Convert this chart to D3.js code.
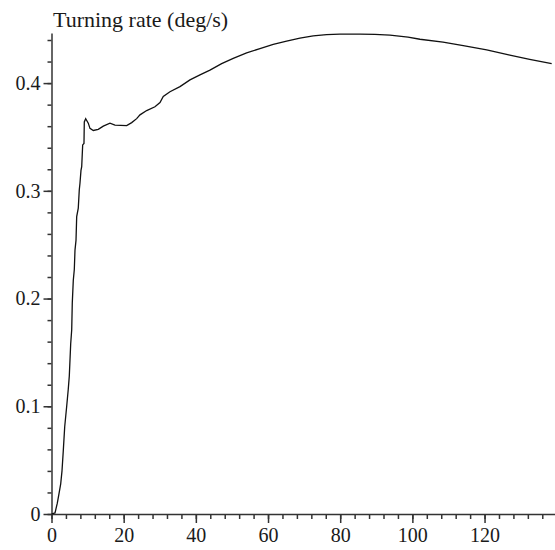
<!DOCTYPE html>
<html>
<head>
<meta charset="utf-8">
<script src="https://cdn.jsdelivr.net/npm/d3@7"></script>
<style>
  body { margin: 0; background: #fff; }
  svg text { font-family: "Liberation Serif", "Times New Roman", serif; fill: #1a1a1a; }
</style>
</head>
<body>
<div id="chart"></div>
<script>
// time (s) and turning rate (deg/s)
var times = [0, 0.97, 1.61, 2.08, 2.55, 2.91, 3.27, 3.66, 4.21, 4.65, 4.93, 5.32, 5.6, 5.76, 6.04, 6.32,
  6.51, 6.79, 6.98, 7.42, 7.7, 7.89, 8.17, 8.37, 8.64, 9.0, 9.09, 9.47, 10.19, 10.66, 11.58, 12.96,
  14.35, 16.2, 17.59, 20.83, 22.22, 23.6, 24.52, 26.37, 28.67, 30.06, 30.97, 32.83, 35.6, 38.37, 41.14, 43.91,
  47.15, 50.36, 54.07, 57.76, 61.44, 65.15, 68.84, 72.52, 76.23, 79.92, 85.5, 89.6, 93.8, 98.8, 102.1, 108.5,
  114.1, 120.6, 127.0, 132.5, 138.6];
var rates = [0, 0.001, 0.01, 0.019, 0.028, 0.04, 0.059, 0.081, 0.1, 0.116, 0.128, 0.158, 0.171, 0.196, 0.217, 0.227,
  0.245, 0.254, 0.276, 0.284, 0.301, 0.307, 0.319, 0.3225, 0.3426, 0.344, 0.364, 0.367, 0.3628, 0.358, 0.356, 0.357,
  0.36, 0.3628, 0.361, 0.3606, 0.3633, 0.367, 0.3705, 0.3745, 0.378, 0.382, 0.3875, 0.392, 0.3967, 0.403, 0.4076, 0.412,
  0.418, 0.423, 0.428, 0.432, 0.436, 0.439, 0.4417, 0.4438, 0.445, 0.4454, 0.4455, 0.4452, 0.4445, 0.4426, 0.4407, 0.438,
  0.4348, 0.4308, 0.426, 0.422, 0.418];
var xMajor = [0, 20, 40, 60, 80, 100, 120];
var yMajor = [0, 0.1, 0.2, 0.3, 0.4];
var title = "Turning rate (deg/s)";

var width = 555, height = 550;
var svg = d3.select("#chart").append("svg")
  .attr("width", width)
  .attr("height", height);

var x = d3.scaleLinear().domain([0, 139.8]).range([51.5, 556]);
var y = d3.scaleLinear().domain([0, 0.4465]).range([514, 33]);

var data = times.map(function (t, i) { return { t: t, v: rates[i] }; });

// minor ticks
svg.append("g")
  .attr("transform", "translate(0,514)")
  .call(d3.axisBottom(x).tickValues(d3.range(0, 140, 4)).tickSize(5).tickSizeOuter(0).tickFormat(""))
  .call(function (g) { g.select(".domain").remove(); });
svg.append("g")
  .attr("transform", "translate(51.5,0)")
  .call(d3.axisLeft(y).tickValues(d3.range(0, 0.445, 0.02)).tickSize(4).tickSizeOuter(0).tickFormat(""))
  .call(function (g) { g.select(".domain").remove(); });

// major ticks + labels
svg.append("g")
  .attr("transform", "translate(0,514)")
  .call(d3.axisBottom(x).tickValues(xMajor).tickSize(9).tickSizeOuter(0).tickPadding(5).tickFormat(d3.format("d")));
svg.append("g")
  .attr("transform", "translate(51.5,0)")
  .call(d3.axisLeft(y).tickValues(yMajor).tickSize(8).tickSizeOuter(0).tickPadding(3).tickFormat(function (d) { return d === 0 ? "0" : d3.format(".1f")(d); }));

svg.selectAll(".tick text").attr("font-size", 20).attr("fill", "#1a1a1a")
  .style("font-family", "'Liberation Serif', serif");
svg.selectAll(".domain, .tick line").attr("stroke", "#333").attr("stroke-width", 1.5);

svg.append("text")
  .attr("x", 53)
  .attr("y", 27)
  .attr("font-size", 22)
  .text(title);

svg.append("path")
  .datum(data)
  .attr("fill", "none")
  .attr("stroke", "#111")
  .attr("stroke-width", 1.3)
  .attr("d", d3.line().x(function (d) { return x(d.t); }).y(function (d) { return y(d.v); }));
</script>
</body>
</html>
